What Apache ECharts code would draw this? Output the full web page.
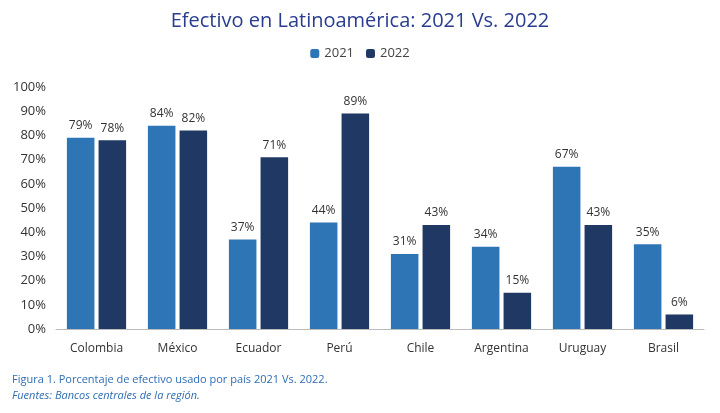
<!DOCTYPE html>
<html>
<head>
<meta charset="utf-8">
<script src="https://cdn.jsdelivr.net/npm/echarts@6/dist/echarts.min.js"></script>
<style>
  html, body { margin: 0; padding: 0; background: #fff; }
  #chart { width: 720px; height: 413px; }
</style>
</head>
<body>
<div id="chart"></div>
<script>
// datos del gráfico
const countries = ['Colombia', 'México', 'Ecuador', 'Perú', 'Chile', 'Argentina', 'Uruguay', 'Brasil'];
const values2021 = [79, 84, 37, 44, 31, 34, 67, 35];
const values2022 = [78, 82, 71, 89, 43, 15, 43, 6];
const yTicks = [0, 10, 20, 30, 40, 50, 60, 70, 80, 90, 100];

const chart = echarts.init(document.getElementById('chart'));

const labelStyle = {
    show: true,
    position: 'top',
    formatter: '{c}%',
    color: '#333',
    fontSize: 12,
    fontFamily: 'Open Sans',
    distance: 6
};

chart.setOption({
    title: {
        text: 'Efectivo en Latinoamérica: 2021 Vs. 2022',
        left: 'center',
        top: 6,
        textStyle: { color: '#2A3C8F', fontSize: 20, fontWeight: 'normal', fontFamily: 'Open Sans' }
    },
    legend: {
        top: 42,
        left: 'center',
        itemWidth: 9,
        itemHeight: 9,
        itemGap: 12,
        textStyle: { color: '#444', fontSize: 13, fontFamily: 'Open Sans' },
        data: ['2021', '2022']
    },
    graphic: [
        {
            type: 'text', left: 12, top: 374,
            style: { text: 'Figura 1. Porcentaje de efectivo usado por país 2021 Vs. 2022.', fill: '#2E6DB4', fontSize: 11, fontFamily: 'Open Sans' }
        },
        {
            type: 'text', left: 12, top: 390,
            style: { text: 'Fuentes: Bancos centrales de la región.', fill: '#2E6DB4', fontSize: 11, fontStyle: 'italic', fontFamily: 'Open Sans' }
        }
    ],
    grid: { left: 56, right: 16, top: 87, bottom: 84 },
    xAxis: {
        type: 'category',
        data: countries,
        axisLine: { lineStyle: { color: '#bbb' } },
        axisTick: { show: false },
        axisLabel: { color: '#333', fontSize: 12, fontFamily: 'Open Sans', margin: 14 }
    },
    yAxis: {
        type: 'value',
        min: yTicks[0],
        max: yTicks[yTicks.length - 1],
        interval: 10,
        splitLine: { show: false },
        axisLine: { show: false },
        axisTick: { show: false },
        axisLabel: { formatter: '{value}%', color: '#333', fontSize: 13, fontFamily: 'Open Sans', margin: 10 }
    },
    series: [
        {
            name: '2021', type: 'bar', data: values2021,
            barWidth: '34%', barGap: '15%',
            itemStyle: { color: '#2E75B6' },
            label: labelStyle
        },
        {
            name: '2022', type: 'bar', data: values2022,
            barWidth: '34%',
            itemStyle: { color: '#1F3864' },
            label: labelStyle
        }
    ]
});
</script>
</body>
</html>
